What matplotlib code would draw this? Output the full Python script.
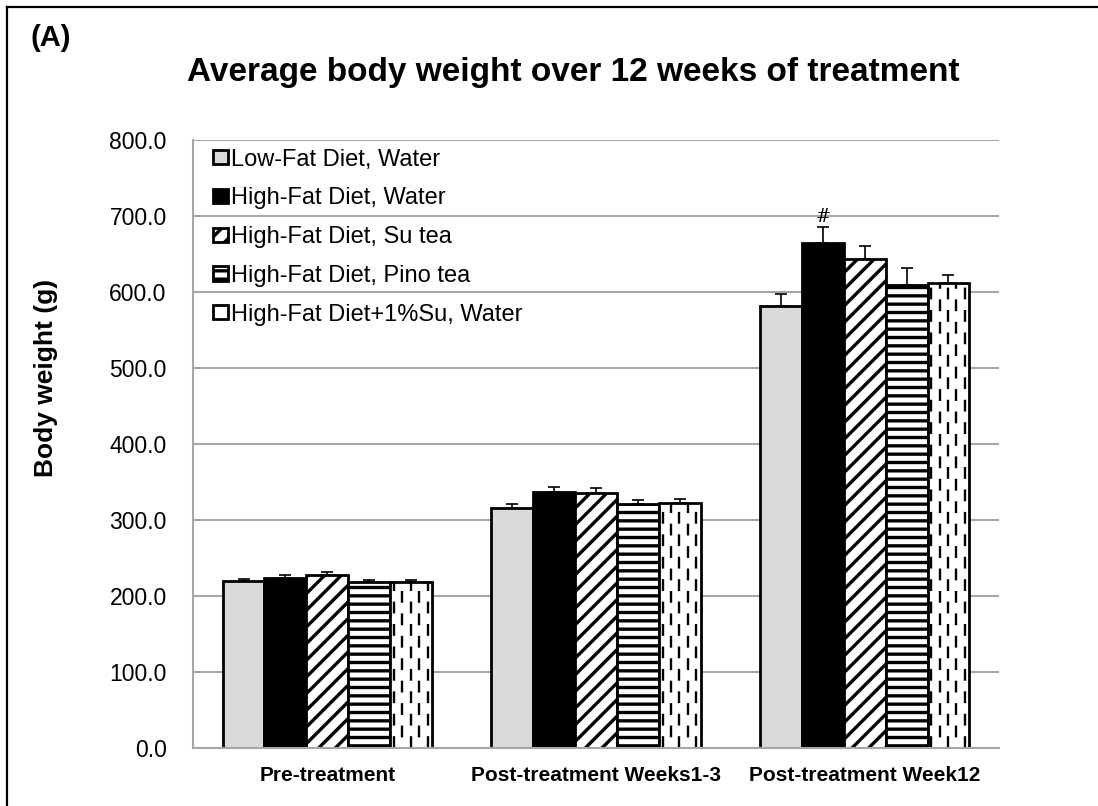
import matplotlib
matplotlib.use('Agg')
import matplotlib.pyplot as plt
from matplotlib.lines import Line2D
import numpy as np

plt.rcParams['font.family'] = ['Liberation Sans', 'DejaVu Sans']
plt.rcParams['hatch.linewidth'] = 2.4

# ====== data ======
timepoints = ['Pre-treatment', 'Post-treatment Weeks1-3', 'Post-treatment Week12']
groups = ['Low-Fat Diet, Water', 'High-Fat Diet, Water', 'High-Fat Diet, Su tea',
          'High-Fat Diet, Pino tea', 'High-Fat Diet+1%Su, Water']
lf_water = [219.7, 316.0, 581.0]
hf_water = [223.0, 336.8, 664.0]
hf_su = [227.0, 335.0, 643.0]
hf_pino = [218.0, 320.6, 609.0]
hf_su1 = [219.0, 323.0, 612.0]
lf_water_err = [2.0, 5.0, 17.0]
hf_water_err = [4.0, 7.0, 21.0]
hf_su_err = [4.0, 6.6, 17.0]
hf_pino_err = [3.0, 6.0, 22.0]
hf_su1_err = [2.0, 5.0, 10.0]
sig_mark = '#'   # HF water vs LF water at week 12

series = [lf_water, hf_water, hf_su, hf_pino, hf_su1]
errs = [lf_water_err, hf_water_err, hf_su_err, hf_pino_err, hf_su1_err]
faces = ['#d9d9d9', 'black', 'white', 'white', 'white']
hatches = [None, None, '//', '--', None]

fig = plt.figure(figsize=(10.98, 8.06), dpi=100)
ax = fig.add_axes([0.1758, 0.072, 0.734, 0.7543])

x = np.arange(len(timepoints))
w = 0.156
for i, (vals, e) in enumerate(zip(series, errs)):
    pos = x + (i - 2) * w
    bars = ax.bar(pos, vals, w, color=faces[i], edgecolor='black', lw=2.0,
                  hatch=hatches[i], label=groups[i], zorder=2)
    ax.errorbar(pos, vals, yerr=[np.zeros(len(vals)), e], fmt='none', ecolor='black',
                elinewidth=1.2, capsize=4, capthick=1.2, zorder=3)
    if i == 4:
        # dashed vertical fill pattern
        for b in bars:
            bx, bw, bh = b.get_x(), b.get_width(), b.get_height()
            for k in range(5):
                xx = bx + bw * (k + 0.45) / 5
                ln = Line2D([xx, xx], [0, bh], color='black', lw=1.7,
                            ls=(0 if k % 2 == 0 else 5, (5, 4.5)), zorder=2.5)
                ax.add_line(ln)
                ln.set_clip_path(b)

# significance mark
ax.annotate(sig_mark, (x[2] - w, hf_water[2] + hf_water_err[2]), textcoords='offset points',
            xytext=(0, 1), ha='center', va='bottom', fontsize=13, family='DejaVu Serif')

ax.set_xlim(-0.5, 2.5)
ax.set_ylim(0, 800)
ax.set_yticks(np.arange(0, 801, 100))
ax.set_yticklabels([f'{v:.1f}' for v in np.arange(0, 801, 100)], fontsize=16.5)
ax.set_xticks(x)
ax.set_xticklabels(timepoints, fontsize=15, fontweight='bold')
ax.tick_params(axis='both', length=0)
ax.tick_params(axis='y', pad=19)
ax.tick_params(axis='x', pad=13)
ax.set_axisbelow(True)
ax.grid(axis='y', color='#a6a6a6', lw=1.5)
for s in ['top', 'right']:
    ax.spines[s].set_visible(False)
for s in ['left', 'bottom']:
    ax.spines[s].set_color('#a6a6a6')
    ax.spines[s].set_linewidth(1.5)

ax.set_ylabel('Body weight (g)', fontsize=19, fontweight='bold')
ax.yaxis.set_label_coords(-0.167, 0.609)

ax.legend(loc='upper left', bbox_to_anchor=(0.004, 1.013), frameon=False, fontsize=17,
          handlelength=0.65, handleheight=0.55, handletextpad=0.12, labelspacing=0.71,
          borderaxespad=0.3)

fig.text(573/1098, 1 - 72/806, 'Average body weight over 12 weeks of treatment',
         ha='center', va='center', fontsize=24, fontweight='bold')
fig.text(30/1098, 1 - 38/806, '(A)', ha='left', va='center', fontsize=21, fontweight='bold')

# border (left and top)
fig.add_artist(Line2D([7/1098, 7/1098], [0, 1 - 7/806], color='black', lw=1.6, transform=fig.transFigure))
fig.add_artist(Line2D([7/1098, 1], [1 - 7/806, 1 - 7/806], color='black', lw=1.6, transform=fig.transFigure))

fig.savefig('out.png', dpi=100)
